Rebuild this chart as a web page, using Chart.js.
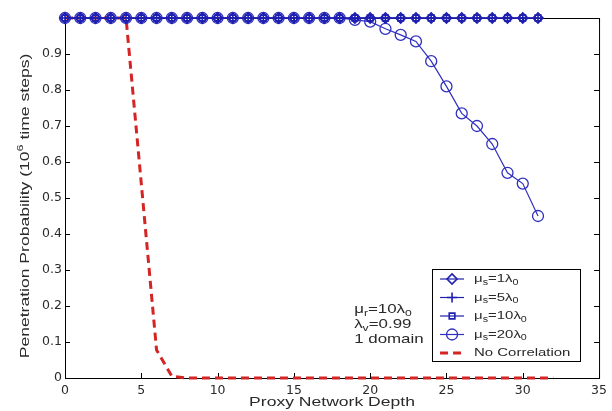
<!DOCTYPE html>
<html>
<head>
<meta charset="utf-8">
<script src="https://cdn.jsdelivr.net/npm/chart.js@4/dist/chart.umd.min.js"></script>
<style>
  html, body { margin: 0; background: #fff; }
</style>
</head>
<body>
<canvas id="chart" width="612" height="411"></canvas>
<script>
// x positions (proxy network depth)
const depth = [0, 1, 2, 3, 4, 5, 6, 7, 8, 9, 10, 11, 12, 13, 14, 15, 16, 17, 18, 19, 20, 21, 22, 23, 24, 25, 26, 27, 28, 29, 30, 31];
const depthNoCorr = [0, 1, 2, 3, 4, 5, 6, 7, 8, 9, 10, 11, 12, 13, 14, 15, 16, 17, 18, 19, 20, 21, 22, 23, 24, 25, 26, 27, 28, 29, 30, 31, 32];

// penetration probability per series
const muS1 = [1, 1, 1, 1, 1, 1, 1, 1, 1, 1, 1, 1, 1, 1, 1, 1, 1, 1, 1, 1, 1, 1, 1, 1, 1, 1, 1, 1, 1, 1, 1, 1];
const muS5 = [1, 1, 1, 1, 1, 1, 1, 1, 1, 1, 1, 1, 1, 1, 1, 1, 1, 1, 1, 1, 1, 1, 1, 1, 1, 1, 1, 1, 1, 1, 1, 1];
const muS10 = [1, 1, 1, 1, 1, 1, 1, 1, 1, 1, 1, 1, 1, 1, 1, 1, 1, 1, 1, 1, 1, 1, 1, 1, 1, 1, 1, 1, 1, 1, 1, 1];
const muS20 = [1, 1, 1, 1, 1, 1, 1, 1, 1, 1, 1, 1, 1, 1, 1, 1, 1, 1, 1, 0.995, 0.99, 0.97, 0.953, 0.935, 0.88, 0.81, 0.735, 0.70, 0.65, 0.57, 0.54, 0.45];
const noCorr = [1, 1, 1, 1, 1, 0.54, 0.078, 0.005, 0, 0, 0, 0, 0, 0, 0, 0, 0, 0, 0, 0, 0, 0, 0, 0, 0, 0, 0, 0, 0, 0, 0, 0, 0];

// tick labels
const xTicks = [0, 5, 10, 15, 20, 25, 30, 35];
const yTicks = [0, 0.1, 0.2, 0.3, 0.4, 0.5, 0.6, 0.7, 0.8, 0.9, 1];

const pts = (xs, ys) => xs.map((x, i) => ({ x: x, y: ys[i] }));

const blue = '#1f1fb0';
const blue2 = '#3030c0';
const red = '#d42424';
const textColor = '#2a2a2a';
const fontFam = '"Liberation Sans", Arial, sans-serif';
const stretch = 1.3; // reference text is drawn wide

// rich text parts: [text, kind] kind 0 normal, 1 subscript, 2 superscript
function richWidth(ctx, parts, size) {
  let w = 0;
  parts.forEach(p => {
    ctx.font = (p[1] ? size * 0.72 : size) + 'px ' + fontFam;
    w += ctx.measureText(p[0]).width;
  });
  return w;
}
function drawRich(ctx, parts, x, y, size, align, rot) {
  ctx.save();
  ctx.translate(x, y);
  if (rot) ctx.rotate(rot);
  ctx.scale(stretch, 1);
  let cx = align === 'center' ? -richWidth(ctx, parts, size) / 2 : 0;
  parts.forEach(p => {
    ctx.font = (p[1] ? size * 0.72 : size) + 'px ' + fontFam;
    const dy = p[1] === 1 ? size * 0.3 : (p[1] === 2 ? -size * 0.35 : 0);
    ctx.fillText(p[0], cx, dy);
    cx += ctx.measureText(p[0]).width;
  });
  ctx.restore();
}

const framePlugin = {
  id: 'frame',
  beforeDatasetsDraw(chart) {
    const { ctx, chartArea: a, scales } = chart;
    ctx.save();
    ctx.strokeStyle = '#000';
    ctx.lineWidth = 1;
    ctx.strokeRect(a.left + 0.5, a.top + 0.5, a.right - a.left, a.bottom - a.top);
    ctx.beginPath();
    xTicks.forEach(v => {
      const px = Math.round(scales.x.getPixelForValue(v)) + 0.5;
      ctx.moveTo(px, a.bottom); ctx.lineTo(px, a.bottom - 5);
      ctx.moveTo(px, a.top); ctx.lineTo(px, a.top + 5);
    });
    yTicks.forEach(v => {
      const py = Math.round(scales.y.getPixelForValue(v)) + 0.5;
      ctx.moveTo(a.left, py); ctx.lineTo(a.left + 5, py);
      ctx.moveTo(a.right, py); ctx.lineTo(a.right - 5, py);
    });
    ctx.stroke();
    ctx.restore();
  },
  afterDraw(chart) {
    const { ctx, chartArea: a, scales } = chart;
    ctx.save();
    ctx.fillStyle = textColor;
    ctx.textBaseline = 'middle';

    // axis titles
    drawRich(ctx, [['Proxy Network Depth', 0]], (a.left + a.right) / 2, 402, 13.5, 'center');
    drawRich(ctx, [['Penetration Probability (10', 0], ['6', 2], [' time steps)', 0]],
      25, (a.top + a.bottom) / 2 + 8, 13.5, 'center', -Math.PI / 2);

    // parameter annotation
    const notes = [
      [['μ', 0], ['r', 1], ['=10λ', 0], ['0', 1]],
      [['λ', 0], ['v', 1], ['=0.99', 0]],
      [['1 domain', 0]]
    ];
    const noteX = scales.x.getPixelForValue(18.95);
    [0.19, 0.148, 0.108].forEach((v, i) => {
      drawRich(ctx, notes[i], noteX, scales.y.getPixelForValue(v), 13);
    });

    // legend box
    const w = 148, h = 92;
    const bx = a.right - 19 - w, by = a.bottom - 17 - h;
    ctx.fillStyle = '#fff';
    ctx.fillRect(bx, by, w, h);
    ctx.strokeStyle = '#000';
    ctx.lineWidth = 1;
    ctx.strokeRect(Math.round(bx) + 0.5, Math.round(by) + 0.5, w, h);

    chart.data.datasets.forEach((ds, i) => {
      const ry = by + 10 + i * 18.5;
      const lx = bx + 8;
      ctx.save();
      ctx.strokeStyle = ds.borderColor;
      ctx.lineWidth = ds.borderWidth;
      ctx.setLineDash(ds.borderDash || []);
      ctx.beginPath();
      ctx.moveTo(lx, ry); ctx.lineTo(lx + 24, ry);
      ctx.stroke();
      ctx.setLineDash([]);
      if (ds.pointRadius > 0) {
        ctx.strokeStyle = ds.pointBorderColor;
        ctx.fillStyle = 'rgba(0,0,0,0)';
        ctx.lineWidth = ds.pointBorderWidth;
        Chart.helpers.drawPoint(ctx, {
          pointStyle: ds.pointStyle, radius: ds.pointRadius, rotation: 0,
          borderWidth: ds.pointBorderWidth
        }, lx + 12, ry);
      }
      ctx.restore();
      ctx.fillStyle = textColor;
      drawRich(ctx, ds.legendParts, lx + 34, ry, 11.5);
    });
    ctx.restore();
  }
};

const common = { showLine: true, tension: 0, clip: false, pointBackgroundColor: 'rgba(0,0,0,0)' };

new Chart(document.getElementById('chart').getContext('2d'), {
  type: 'scatter',
  data: {
    datasets: [
      Object.assign({}, common, {
        label: 'μs=1λ0', legendParts: [['μ', 0], ['s', 1], ['=1λ', 0], ['0', 1]],
        data: pts(depth, muS1), borderColor: blue, borderWidth: 1.2,
        pointStyle: 'rectRot', pointRadius: 5, pointBorderColor: blue, pointBorderWidth: 1.6
      }),
      Object.assign({}, common, {
        label: 'μs=5λ0', legendParts: [['μ', 0], ['s', 1], ['=5λ', 0], ['0', 1]],
        data: pts(depth, muS5), borderColor: blue, borderWidth: 1.2,
        pointStyle: 'cross', pointRadius: 5, pointBorderColor: blue, pointBorderWidth: 1.6
      }),
      Object.assign({}, common, {
        label: 'μs=10λ0', legendParts: [['μ', 0], ['s', 1], ['=10λ', 0], ['0', 1]],
        data: pts(depth, muS10), borderColor: blue, borderWidth: 1.2,
        pointStyle: 'rect', pointRadius: 4, pointBorderColor: blue, pointBorderWidth: 1.6
      }),
      Object.assign({}, common, {
        label: 'μs=20λ0', legendParts: [['μ', 0], ['s', 1], ['=20λ', 0], ['0', 1]],
        data: pts(depth, muS20), borderColor: blue2, borderWidth: 1.2,
        pointStyle: 'circle', pointRadius: 5.5, pointBorderColor: blue2, pointBorderWidth: 1.3
      }),
      Object.assign({}, common, {
        label: 'No Correlation', legendParts: [['No Correlation', 0]],
        data: pts(depthNoCorr, noCorr), borderColor: red, borderWidth: 3,
        borderDash: [8, 5], pointRadius: 0, pointBorderColor: red, pointBorderWidth: 0
      })
    ]
  },
  options: {
    responsive: false,
    animation: false,
    layout: { padding: { top: 18, right: 10, left: 0, bottom: 0 } },
    plugins: { legend: { display: false }, tooltip: { enabled: false } },
    scales: {
      x: {
        type: 'linear', min: 0, max: 35,
        afterFit(s) { s.height = 33; },
        afterBuildTicks(s) { s.ticks = xTicks.map(v => ({ value: v })); },
        grid: { display: false, drawTicks: false },
        border: { display: true, color: '#000' },
        ticks: { padding: 5, color: textColor, font: { size: 12.5, family: '"DejaVu Sans", sans-serif' } },
        title: { display: false }
      },
      y: {
        type: 'linear', min: 0, max: 1,
        afterFit(s) { s.width = 65; },
        afterBuildTicks(s) { s.ticks = yTicks.map(v => ({ value: v })); },
        grid: { display: false, drawTicks: false },
        border: { display: true, color: '#000' },
        ticks: {
          padding: 3, color: textColor, font: { size: 12.5, family: '"DejaVu Sans", sans-serif' },
          callback: v => v === 1 ? '' : (v === 0 ? '0' : v.toFixed(1))
        },
        title: { display: false }
      }
    }
  },
  plugins: [framePlugin]
});
</script>
</body>
</html>
